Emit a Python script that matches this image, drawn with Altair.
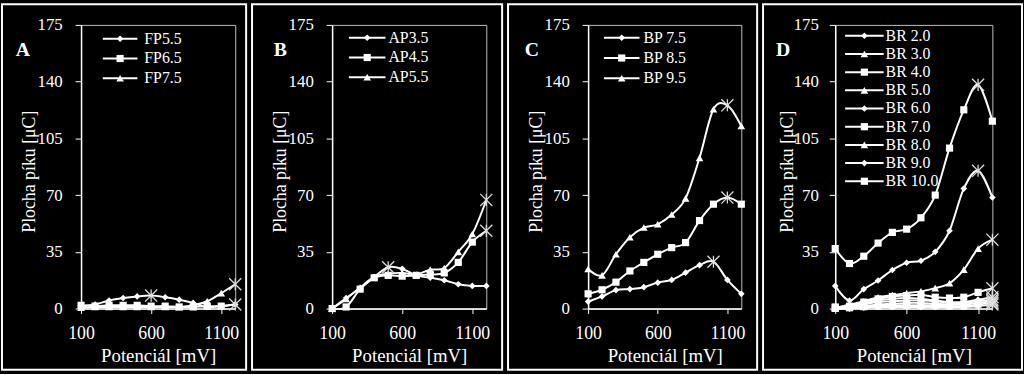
import altair as alt
import pandas as pd

potential = [100, 200, 300, 400, 500, 600, 700, 800, 900, 1000, 1100, 1200]
y_ticks = [0, 35, 70, 105, 140, 175]
x_ticks = [100, 600, 1100]

# Panel A
a_names = ["FP5.5", "FP6.5", "FP7.5"]
a_fp55 = [1.5, 2.5, 5, 6.5, 7.5, 8, 7, 5.5, 3.5, 1, 1.5, 2.5]
a_fp65 = [2, 1.5, 2, 2, 2, 1.5, 1.5, 1, 1, 1.5, 1.5, 2.5]
a_fp75 = [0.5, 1, 1, 1, 1, 1, 1, 1, 2, 4.5, 9.5, 15]
a_shapes = ["diamond", "square", "triangle-up"]
a_peaks = [5, 11, 11]

# Panel B
b_names = ["AP3.5", "AP4.5", "AP5.5"]
b_ap35 = [0, 6.5, 12.5, 19.5, 25.5, 24.5, 20.5, 19, 17.5, 15, 14, 14]
b_ap45 = [0, 1, 12, 19, 20.5, 20, 20.5, 21, 22, 28.5, 41, 48]
b_ap55 = [0, 6, 13, 19.5, 21.5, 22, 21, 24, 25, 35, 46, 67]
b_shapes = ["diamond", "square", "triangle-up"]
b_peaks = [4, 11, 11]

# Panel C
c_names = ["BP 7.5", "BP 8.5", "BP 9.5"]
c_bp75 = [4.3, 7.5, 11.4, 12, 13.2, 16, 17.7, 22.2, 26.8, 28.9, 17.7, 9.1]
c_bp85 = [9.1, 11.6, 16.3, 23.2, 28.5, 33.5, 37.6, 40.7, 54.3, 64.4, 68.5, 64.4]
c_bp95 = [24.4, 20.5, 33.5, 44, 50, 52, 58, 68, 93, 123, 125.4, 112.6]
c_shapes = ["diamond", "square", "triangle-up"]
c_peaks = [9, 10, 10]

# Panel D
d_names = ["BR 2.0", "BR 3.0", "BR 4.0", "BR 5.0", "BR 6.0", "BR 7.0", "BR 8.0", "BR 9.0", "BR 10.0"]
d_br2 = [0, 0, 0.5, 1, 1, 1, 1, 1, 1, 1, 1.5, 2.5]
d_br3 = [0, 0.5, 1, 1.5, 2, 2, 2, 2, 1.5, 1.5, 2.5, 3.5]
d_br4 = [0.5, 0.5, 1.5, 2.5, 3, 3.5, 3.5, 3, 2.5, 2.5, 3.5, 4.5]
d_br5 = [0.5, 1, 2.5, 4, 4.5, 5, 5, 4.5, 3.5, 3.5, 4.5, 5.5]
d_br6 = [0.5, 1, 3, 5, 6, 6.5, 6, 5, 4, 4, 5.5, 7]
d_br7 = [1, 1.5, 4, 6, 7.5, 8, 8.5, 7, 6.5, 7, 10, 12.5]
d_br8 = [0.5, 2.4, 4.5, 7, 8.3, 9.5, 10.6, 12.6, 15.6, 24, 37, 42.5]
d_br9 = [14, 5, 12, 17.3, 23.8, 28.3, 29.5, 35, 48, 74, 85, 68.5]
d_br10 = [37, 27.8, 32.3, 40.4, 47, 49, 56, 70, 99, 122.6, 138, 115.6]
d_shapes = ["diamond", "triangle-up", "square", "triangle-up", "diamond",
            "square", "triangle-up", "diamond", "square"]
d_peaks = [11, 11, 11, 11, 11, 11, 11, 10, 10]

H = 287
YMAX = 175
FONT = "Liberation Serif"
STAR = "M-1,-1L1,1M-1,1L1,-1M0,-1L0,1"


def make_panel(names, series, shapes, peaks, letter, W, fl, fr, leg, lpad, tx, interp):
    rows = []
    for name, vals, shp, pk in zip(names, series, shapes, peaks):
        for i, (x, y) in enumerate(zip(potential, vals)):
            rows.append({"x": x, "y": y, "series": name, "shape": shp, "star": i == pk})
    df = pd.DataFrame(rows)

    lx0, lx1, ltx, ly0, lstep = leg
    ldf = pd.DataFrame({
        "series": names,
        "shape": shapes,
        "ly": [YMAX * (1 - (ly0 + k * lstep) / H) for k in range(len(names))],
    })

    xenc = alt.X("x:Q", scale=alt.Scale(domain=[100, 1200], nice=False, zero=False),
                 axis=alt.Axis(values=x_ticks, format="d", title="Potenciál [mV]", grid=False,
                               labelFlush=False, tickSize=5, labelPadding=11,
                               labelFontSize=18, titleFontSize=19,
                               titleY=54, titleBaseline="alphabetic"))
    yenc = alt.Y("y:Q", scale=alt.Scale(domain=[0, YMAX], nice=False),
                 axis=alt.Axis(values=y_ticks, format="d", title="Plocha píku [μC]", grid=False,
                               tickSize=6, labelPadding=lpad, labelFontSize=17,
                               titleFontSize=18, titleX=tx, titleY=148,
                               titleBaseline="middle"))

    one = alt.Data(values=[{}])
    frame = alt.Chart(one).mark_rect(fill="black", fillOpacity=0, stroke="white",
                                     strokeWidth=2).encode(
        x=alt.value(fl), x2=alt.value(W + fr), y=alt.value(-21), y2=alt.value(H + 62))

    lines = alt.Chart(df).mark_line(color="white", strokeWidth=2, interpolate=interp).encode(
        x=xenc, y=yenc, detail="series:N", order="x:Q")

    size_scale = alt.Scale(domain=["diamond", "square", "triangle-up"], range=[45, 60, 50])

    pts = alt.Chart(df).transform_filter("!datum.star").mark_point(
        filled=True, color="white", opacity=1).encode(
        x="x:Q", y="y:Q",
        shape=alt.Shape("shape:N", scale=None),
        size=alt.Size("shape:N", scale=size_scale, legend=None))

    stars = alt.Chart(df).transform_filter("datum.star").mark_point(
        shape=STAR, filled=False, stroke="#dddddd", strokeWidth=1.3, size=150, opacity=1
    ).encode(x="x:Q", y="y:Q")

    lrule = alt.Chart(ldf).mark_rule(color="white", strokeWidth=2).encode(
        x=alt.value(lx0), x2=alt.value(lx1), y="ly:Q")
    lpts = alt.Chart(ldf).mark_point(filled=True, color="white", opacity=1).encode(
        x=alt.value((lx0 + lx1) / 2), y="ly:Q",
        shape=alt.Shape("shape:N", scale=None),
        size=alt.Size("shape:N", scale=size_scale, legend=None))
    ltext = alt.Chart(ldf).mark_text(align="left", baseline="middle", font=FONT,
                                     fontSize=16, color="white").encode(
        x=alt.value(ltx), y="ly:Q", text="series:N")

    lab = alt.Chart(one).mark_text(align="left", baseline="alphabetic", font=FONT,
                                   fontSize=20, fontWeight="bold", color="white").encode(
        x=alt.value(letter[1]), y=alt.value(31), text=alt.value(letter[0]))

    return alt.layer(frame, lines, pts, stars, lrule, lpts, ltext, lab).properties(
        width=W, height=H)


pA = make_panel(a_names, [a_fp55, a_fp65, a_fp75], a_shapes, a_peaks, ("A", -66),
                156, -80, 11, (22, 57, 64, 14, 20), 13, -52, "cardinal")
pB = make_panel(b_names, [b_ap35, b_ap45, b_ap55], b_shapes, b_peaks, ("B", -59),
                156, -81, 16, (17, 54, 57, 13, 20), 13, -52, "cardinal")
pC = make_panel(c_names, [c_bp75, c_bp85, c_bp95], c_shapes, c_peaks, ("C", -64),
                155, -81, 16, (16, 52, 56, 13, 20.5), 13, -52, "cardinal")
pD = make_panel(d_names, [d_br2, d_br3, d_br4, d_br5, d_br6, d_br7, d_br8, d_br9, d_br10],
                d_shapes, d_peaks, ("D", -60),
                159, -73, 30, (10, 49, 51, 11, 18.4), 11, -48, "cardinal")

chart = alt.hconcat(pA, pB, pC, pD, spacing=2).configure(
    background="black", padding={"left": 0, "top": 0, "right": 0, "bottom": 0}
).configure_view(stroke="#bfbfbf", strokeWidth=1).configure_axis(
    domainColor="white", domainWidth=1.5, tickColor="white", tickWidth=1,
    labelColor="white", titleColor="white", labelFont=FONT, titleFont=FONT,
    titleFontWeight="normal"
)

chart.save("out.html", embed_options={"renderer": "svg", "actions": False})
